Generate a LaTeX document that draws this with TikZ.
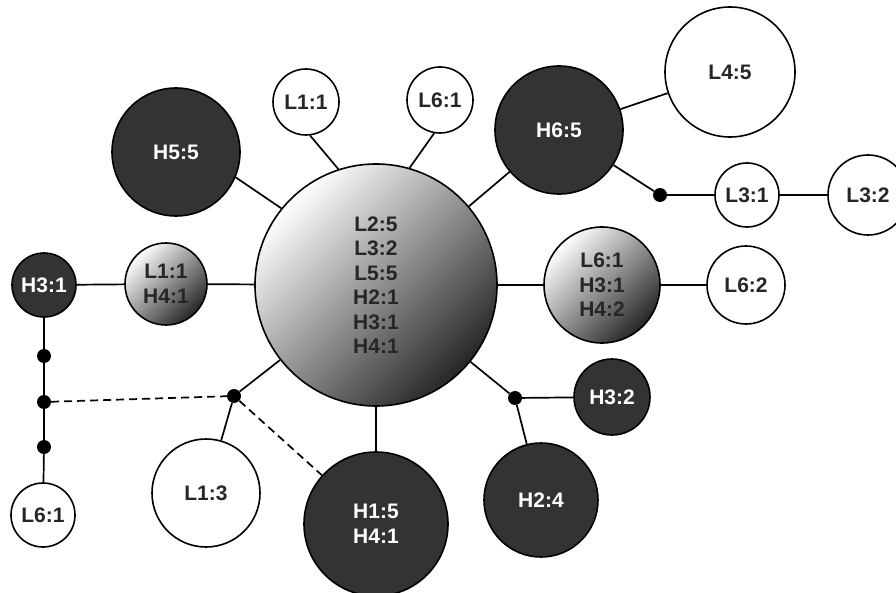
\documentclass[tikz,border=0pt]{standalone}
\usepackage{fontspec}
\setmainfont{Liberation Sans}

\begin{document}
\begin{tikzpicture}[x=1pt, y=-1pt,
    hap/.style={circle, draw, line width=1.6pt, inner sep=0pt, align=center,
        font=\fontsize{21}{24.5}\selectfont\bfseries, minimum size=#1},
    white hap/.style={hap=#1, fill=white, text=black!85},
    dark hap/.style={hap=#1, fill=black!80, text=white},
    mixed hap/.style={hap=#1, top color=white, middle color=black!22,
        bottom color=black!85, shading angle=45, text=black!85},
    vertex/.style={circle, fill=black, inner sep=0pt, minimum size=14pt},
    link/.style={line width=1.7pt},
    gap/.style={link, dash pattern=on 8pt off 5pt}]
    \useasboundingbox (0,0) rectangle (896,593);

    \node[mixed hap=242pt] (center) at (376,285) {L2:5\\L3:2\\L5:5\\H2:1\\H3:1\\H4:1};
    \node[white hap=66pt] (L11top) at (306,102) {L1:1};
    \node[white hap=66pt] (L61top) at (440,100) {L6:1};
    \node[dark hap=128pt] (H55) at (176,152) {H5:5};
    \node[dark hap=128pt] (H65) at (559,130) {H6:5};
    \node[white hap=130pt] (L45) at (730,72) {L4:5};
    \node[vertex] (dotH6) at (660,195) {};
    \node[white hap=64pt] (L31) at (747,195) {L3:1};
    \node[white hap=80pt] (L32) at (868,195) {L3:2};
    \node[mixed hap=116pt] (mixR) at (602,285) {L6:1\\H3:1\\H4:2};
    \node[white hap=78pt] (L62) at (746,285) {L6:2};
    \node[mixed hap=82pt] (mixL) at (166,284) {L1:1\\H4:1};
    \node[dark hap=64pt] (H31) at (44,285) {H3:1};
    \node[vertex] (dotA) at (44,356) {};
    \node[vertex] (dotB) at (44,402) {};
    \node[vertex] (dotC) at (44,447) {};
    \node[white hap=64pt] (L61bot) at (43,515) {L6:1};
    \node[vertex] (dotL) at (234,396) {};
    \node[white hap=108pt] (L13) at (206,493) {L1:3};
    \node[dark hap=144pt] (H15) at (376,524) {H1:5\\H4:1};
    \node[vertex] (dotR) at (515,398) {};
    \node[dark hap=76pt] (H32) at (612,397) {H3:2};
    \node[dark hap=114pt] (H24) at (541,500) {H2:4};

    \draw[link] (center.108) -- (L11top.-83);
    \draw[link] (center.74) -- (L61top.-100);
    \draw[link] (center.141) -- (H55.-23);
    \draw[link] (center) -- (H65);
    \draw[link] (H65) -- (L45);
    \draw[link] (H65) -- (dotH6) -- (L31) -- (L32);
    \draw[link] (center) -- (mixR) -- (L62);
    \draw[link] (center) -- (mixL) -- (H31);
    \draw[link] (H31) -- (dotA) -- (dotB) -- (dotC) -- (L61bot);
    \draw[link] (center) -- (dotL) -- (L13);
    \draw[gap] (dotB) -- (dotL) -- (H15);
    \draw[link] (center) -- (H15);
    \draw[link] (center) -- (dotR) -- (H32);
    \draw[link] (dotR) -- (H24);
\end{tikzpicture}
\end{document}
